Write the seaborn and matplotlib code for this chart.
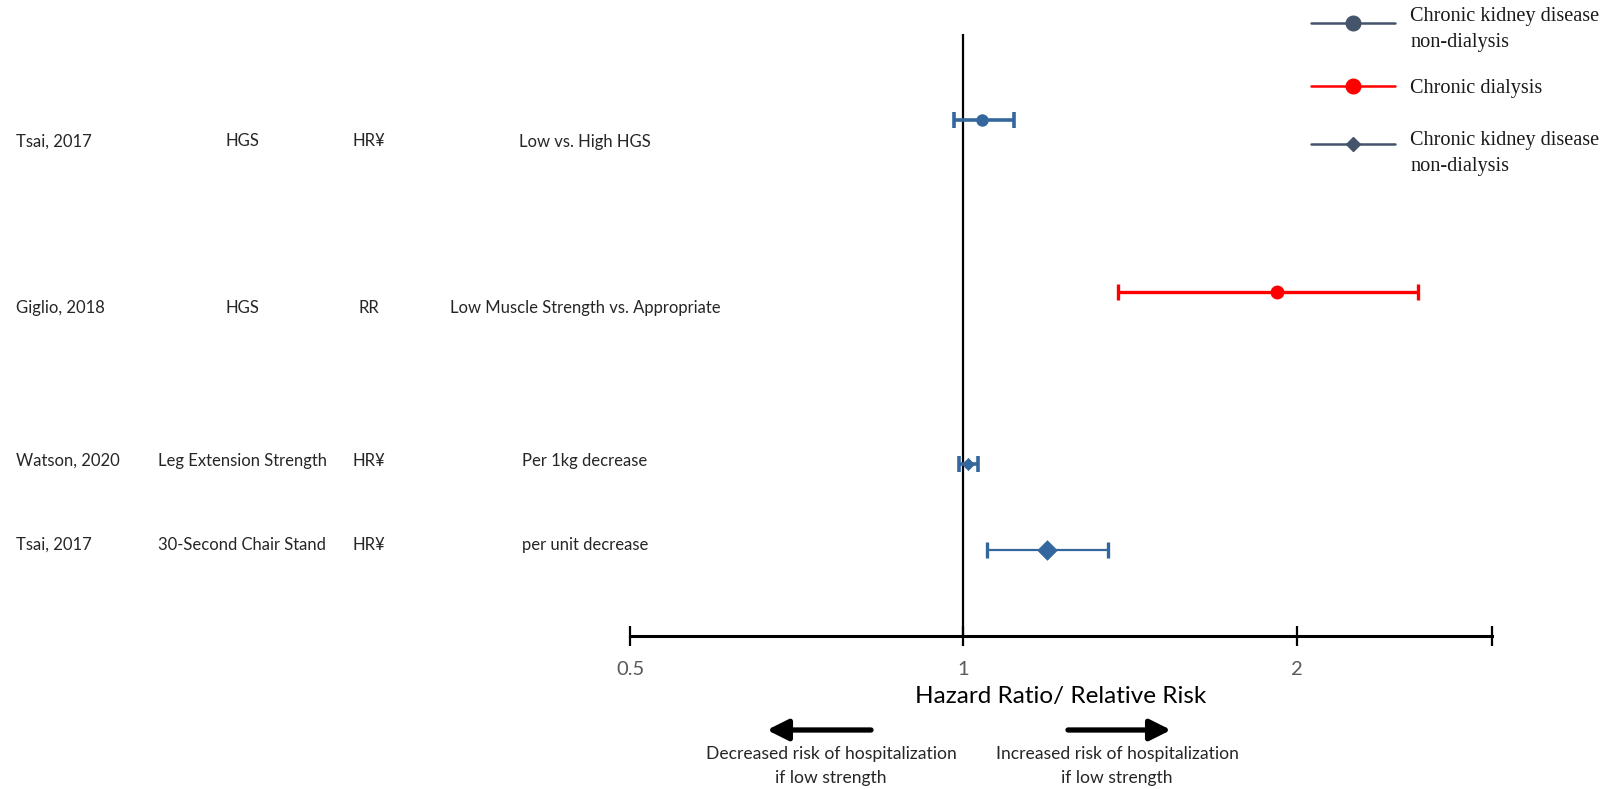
import matplotlib
matplotlib.use("Agg")
import matplotlib.pyplot as plt
from matplotlib.lines import Line2D
import seaborn as sns
import pandas as pd

# Study table
studies = ["Tsai, 2017", "Giglio, 2018", "Watson, 2020", "Tsai, 2017"]
measures = ["HGS", "HGS", "Leg Extension Strength", "30-Second Chair Stand"]
effect_types = ["HR¥", "RR", "HR¥", "HR¥"]
comparisons = ["Low vs. High HGS", "Low Muscle Strength vs. Appropriate",
               "Per 1kg decrease", "per unit decrease"]
estimates = [1.04, 1.92, 1.01, 1.19]
ci_lower = [0.98, 1.38, 0.99, 1.05]
ci_upper = [1.11, 2.57, 1.03, 1.35]
groups = ["CKD circle", "Dialysis", "CKD circle", "CKD diamond"]

legend_labels = ["Chronic kidney disease\nnon-dialysis", "Chronic dialysis",
                 "Chronic kidney disease\nnon-dialysis"]
x_ticks = [0.5, 1, 2, 3]
x_tick_labels = ["0.5", "1", "2", ""]

# layout
row_y = [6, 4, 2, 1]
text_y = [5.75, 3.81, 2.04, 1.06]
W, H = 1617, 789
BLUE = "#34679E"
RED = "#FF0000"
LEG = "#44546A"
TEXT_FONT = ["Lato", "DejaVu Sans"]
SERIF = ["Liberation Serif", "DejaVu Serif"]

sns.set_theme(style="white")
plt.rcParams["font.family"] = TEXT_FONT

df = pd.DataFrame({"est": estimates, "lo": ci_lower, "hi": ci_upper,
                   "y": row_y, "group": groups})

fig = plt.figure(figsize=(W / 100, H / 100), dpi=100)
ax = fig.add_axes([630 / W, (H - 636) / H, (1492 - 630) / W, (636 - 34) / H])
ax.set_xscale("log")
ax.set_xlim(0.5, 3)
ax.set_ylim(0, 7)

# reference line at no effect
ax.axvline(1, color="black", lw=1.6, zorder=1)

# confidence intervals
ci_styles = {
    "CKD circle": dict(color=BLUE, lw=2.6, capsize=5.5, capthick=2.6),
    "Dialysis": dict(color=RED, lw=2.4, capsize=5.5, capthick=2.4),
    "CKD diamond": dict(color=BLUE, lw=1.6, capsize=5.5, capthick=2.4),
}
for i, r in df.iterrows():
    st = ci_styles[r["group"]]
    ax.errorbar(r["est"], r["y"], xerr=[[r["est"] - r["lo"]], [r["hi"] - r["est"]]],
                fmt="none", ecolor=st["color"], elinewidth=st["lw"],
                capsize=st["capsize"], capthick=st["capthick"], zorder=2)

# point estimates
ckd = df[df.group == "CKD circle"]
sns.scatterplot(data=ckd.iloc[:1], x="est", y="y", marker="o",
                s=80, color=BLUE, edgecolor=BLUE, linewidth=0, ax=ax, zorder=3, legend=False)
sns.scatterplot(data=ckd.iloc[1:], x="est", y="y", marker="D",
                s=45, color=BLUE, edgecolor=BLUE, linewidth=0, ax=ax, zorder=3, legend=False)
sns.scatterplot(data=df[df.group == "Dialysis"], x="est", y="y", marker="o",
                s=100, color=RED, edgecolor=RED, linewidth=0, ax=ax, zorder=3, legend=False)
sns.scatterplot(data=df[df.group == "CKD diamond"], x="est", y="y", marker="D",
                s=110, color=BLUE, edgecolor=BLUE, linewidth=0, ax=ax, zorder=3, legend=False)

# axis styling
for s in ["top", "left", "right"]:
    ax.spines[s].set_visible(False)
ax.spines["bottom"].set_linewidth(2.2)
ax.spines["bottom"].set_color("black")
ax.set_yticks([])
ax.set_xticks(x_ticks)
ax.set_xticklabels(x_tick_labels)
ax.xaxis.set_minor_locator(matplotlib.ticker.NullLocator())
ax.tick_params(axis="x", which="major", direction="inout", length=14, width=1.6,
               color="black", labelcolor="#595959", labelsize=14.5, pad=11,
               bottom=True)
ax.set_ylabel("")
ax.set_xlabel("Hazard Ratio/ Relative Risk", fontsize=17.5, color="black", labelpad=6)

# study table text
blend = matplotlib.transforms.blended_transform_factory(fig.transFigure, ax.transData)
col_x = [16.5 / W, 242 / W, 369 / W, 585 / W]
for i in range(len(studies)):
    ty = text_y[i]
    ax.text(col_x[0], ty, studies[i], transform=blend, ha="left", va="center", fontsize=12)
    ax.text(col_x[1], ty, measures[i], transform=blend, ha="center", va="center", fontsize=12)
    ax.text(col_x[2], ty, effect_types[i], transform=blend, ha="center", va="center", fontsize=12)
    ax.text(col_x[3], ty, comparisons[i], transform=blend, ha="center", va="center", fontsize=12)

# direction arrows
arrow_kw = dict(arrowstyle="-|>,head_width=0.45,head_length=0.9", lw=3.8, color="black",
                shrinkA=0, shrinkB=0, mutation_scale=14)
ax.annotate("", xy=(767 / W, 1 - 730 / H), xytext=(871 / W, 1 - 730 / H),
            xycoords="figure fraction", textcoords="figure fraction", arrowprops=arrow_kw)
ax.annotate("", xy=(1171 / W, 1 - 730 / H), xytext=(1068 / W, 1 - 730 / H),
            xycoords="figure fraction", textcoords="figure fraction", arrowprops=arrow_kw)
fig.text(831 / W, 1 - 766 / H, "Decreased risk of hospitalization\nif low strength",
         ha="center", va="center", fontsize=12.6, linespacing=1.55)
fig.text(1117 / W, 1 - 766 / H, "Increased risk of hospitalization\nif low strength",
         ha="center", va="center", fontsize=12.6, linespacing=1.55)

# legend, drawn entry by entry so each marker sits on the first text line
legend_handles = [
    dict(color=LEG, marker="o", ms=10.5),
    dict(color=RED, marker="o", ms=10.5),
    dict(color=LEG, marker="D", ms=7),
]
handle_y = [23, 86, 144]
label_top = [7, 79, 131]
for h, hy, ty, lab in zip(legend_handles, handle_y, label_top, legend_labels):
    yf = 1 - hy / H
    fig.add_artist(Line2D([1311 / W, 1395 / W], [yf, yf], transform=fig.transFigure,
                          color=h["color"], lw=1.8))
    fig.add_artist(Line2D([1353 / W], [yf], transform=fig.transFigure, color=h["color"],
                          marker=h["marker"], markersize=h["ms"], lw=0))
    fig.text(1410 / W, 1 - ty / H, lab, ha="left", va="top", family=SERIF,
             fontsize=14.6, color="#1a1a1a", linespacing=1.5)

fig.savefig("out.png", dpi=100, facecolor="white")
